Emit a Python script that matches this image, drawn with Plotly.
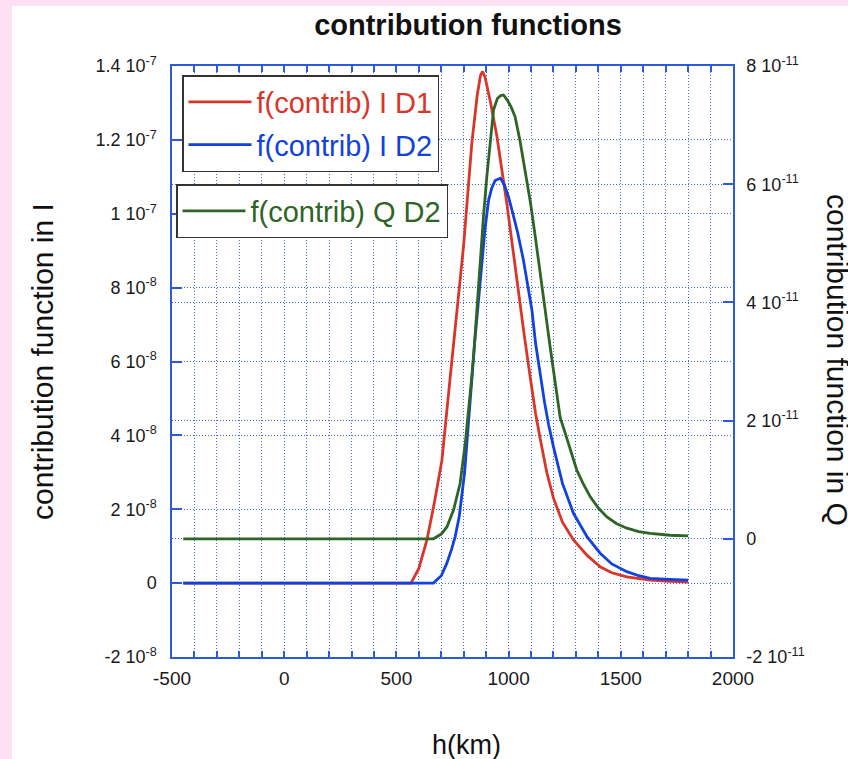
import plotly.graph_objects as go

# ---------------- data ----------------
h_I1 = [-450, 565, 600, 636, 670, 703, 740, 770, 799, 836, 860, 875, 884, 895, 920, 948, 970, 992, 1020, 1044, 1070, 1096,
        1120, 1141, 1170, 1200, 1240, 1289, 1350, 1408, 1460, 1527, 1631, 1720, 1800]
I_D1 = [0, 0, 0.4, 1.17, 2.2, 3.33, 5.59, 7.39, 9.11, 11.9, 13.2, 13.75, 13.85, 13.7, 13.0, 12.09, 11.2, 10.28, 9.0, 7.85, 6.7, 5.59,
        4.6, 3.9, 3.0, 2.3, 1.65, 1.17, 0.75, 0.44, 0.28, 0.17, 0.08, 0.05, 0.03]  # x1e-8

h_I2 = [-450, 665, 700, 725, 745, 762, 780, 792, 804, 814, 825, 836, 850, 862, 881, 895, 911, 925, 940, 963, 980, 1000, 1015,
        1040, 1066, 1085, 1104, 1120, 1141, 1160, 1178, 1200, 1240, 1289, 1350, 1408, 1460, 1527, 1580, 1631, 1720, 1800]
I_D2 = [0, 0, 0.2, 0.54, 0.9, 1.26, 1.8, 2.34, 3.0, 3.78, 4.7, 5.59, 6.6, 7.39, 8.75, 9.6, 10.37, 10.7, 10.9, 10.96, 10.8, 10.45,
        10.1, 9.5, 8.75, 8.1, 7.39, 6.5, 5.59, 4.9, 4.3, 3.69, 2.7, 1.89, 1.25, 0.81, 0.52, 0.31, 0.2, 0.13, 0.1, 0.08]  # x1e-8

h_Q2 = [-450, 665, 700, 725, 755, 784, 807, 822, 836, 848, 858, 873, 888, 903, 918, 933, 950, 965, 977, 995, 1012, 1029, 1050,
        1074, 1097, 1119, 1141, 1163, 1185, 1200, 1215, 1230, 1253, 1275, 1304, 1334, 1364, 1400, 1438, 1480, 1527, 1580, 1631,
        1720, 1800]
Q_D2 = [0, 0, 0.08, 0.2, 0.49, 0.94, 1.62, 2.15, 2.74, 3.3, 3.87, 4.72, 5.45, 6.13, 6.75, 7.26, 7.45, 7.5, 7.51, 7.42, 7.3, 7.14,
        6.75, 6.24, 5.7, 5.11, 4.45, 3.87, 3.25, 2.85, 2.42, 2.05, 1.78, 1.5, 1.16, 0.92, 0.71, 0.52, 0.37, 0.26, 0.18, 0.12, 0.09,
        0.06, 0.05]  # x1e-11

left_tickvals = [-2e-8, 0, 2e-8, 4e-8, 6e-8, 8e-8, 1e-7, 1.2e-7, 1.4e-7]
left_ticktext = ["-2 10<sup>-8</sup>", "0", "2 10<sup>-8</sup>", "4 10<sup>-8</sup>", "6 10<sup>-8</sup>",
                 "8 10<sup>-8</sup>", "1 10<sup>-7</sup>", "1.2 10<sup>-7</sup>", "1.4 10<sup>-7</sup>"]
right_tickvals = [-2e-11, 0, 2e-11, 4e-11, 6e-11, 8e-11]
right_ticktext = ["-2 10<sup>-11</sup>", "0", "2 10<sup>-11</sup>", "4 10<sup>-11</sup>",
                  "6 10<sup>-11</sup>", "8 10<sup>-11</sup>"]
x_tickvals = [-500, 0, 500, 1000, 1500, 2000]
x_ticktext = ["-500", "0", "500", "1000", "1500", "2000"]

# ---------------- style ----------------
W, H = 848, 759
L, R, T, B = 172, 733, 66, 657
FONT = "Liberation Sans, Arial, Helvetica, sans-serif"
RED, BLUE, GREEN = "#d9362a", "#1142dd", "#2e6424"
AX = "#2b5bd8"
GRID = "#3f6be6"
DOT = "1px,2px"

def px_x(p):
    return (p - L) / (R - L)

def px_y(p):
    return (B - p) / (B - T)

fig = go.Figure()
fig.add_trace(go.Scatter(x=h_I1, y=[v * 1e-8 for v in I_D1], mode="lines",
                         line=dict(color=RED, width=2.8),
                         name=f"<span style='color:{RED}'>f(contrib) I D1</span>",
                         legend="legend", legendgroup="a"))
fig.add_trace(go.Scatter(x=h_I2, y=[v * 1e-8 for v in I_D2], mode="lines",
                         line=dict(color=BLUE, width=2.8),
                         name=f"<span style='color:{BLUE}'>f(contrib) I D2</span>",
                         legend="legend", legendgroup="b"))
fig.add_trace(go.Scatter(x=h_Q2, y=[v * 1e-11 for v in Q_D2], mode="lines",
                         line=dict(color=GREEN, width=2.8), yaxis="y2",
                         name=f"<span style='color:{GREEN}'>f(contrib) Q D2</span>",
                         legend="legend2"))

fig.update_layout(
    width=W, height=H,
    margin=dict(l=L, r=W - R, t=T, b=H - B, autoexpand=False),
    paper_bgcolor="#fde0f4",
    plot_bgcolor="white",
    font=dict(family=FONT, color="#1a1a1a", size=18),
    showlegend=True,
    title=dict(text="<b>contribution functions</b>", x=468 / W, xref="container",
               y=1 - 25 / H, yref="container", xanchor="center", yanchor="middle",
               font=dict(size=29, family=FONT, color="#111")),
    xaxis=dict(range=[-500, 2000], tickvals=x_tickvals, ticktext=x_ticktext,
               ticks="inside", ticklen=6,
               tickcolor=AX, tickwidth=1.5, showline=True, linecolor=AX, linewidth=1.5,
               mirror="ticks", zeroline=False, showgrid=True, gridcolor=GRID,
               griddash=DOT, gridwidth=1, tickfont=dict(size=19),
               ticklabelstandoff=3,
               minor=dict(dtick=100, tick0=0, ticks="inside", ticklen=6, tickcolor=AX,
                          tickwidth=1.5, showgrid=True, gridcolor=GRID, griddash=DOT,
                          gridwidth=1)),
    yaxis=dict(range=[-2e-8, 1.4e-7], tickvals=left_tickvals, ticktext=left_ticktext,
               ticks="inside", ticklen=10, tickcolor=AX, tickwidth=1.5,
               showline=True, linecolor=AX, linewidth=1.5, zeroline=False,
               showgrid=True, gridcolor=GRID, griddash=DOT, gridwidth=1,
               tickfont=dict(size=18), ticklabelstandoff=10),
    yaxis2=dict(range=[-2e-11, 8e-11], tickvals=right_tickvals, ticktext=right_ticktext,
                overlaying="y", side="right", anchor="x",
                ticks="inside", ticklen=10, tickcolor=AX, tickwidth=1.5,
                showline=True, linecolor=AX, linewidth=1.5, zeroline=False,
                showgrid=True, gridcolor=GRID, griddash=DOT, gridwidth=1,
                tickfont=dict(size=18), ticklabelstandoff=8),
    legend=dict(x=px_x(182), y=px_y(75), xanchor="left", yanchor="top",
                bgcolor="white", bordercolor="#333", borderwidth=1.5,
                font=dict(size=29, family=FONT), tracegroupgap=2, itemwidth=63),
    legend2=dict(x=px_x(176), y=px_y(184), xanchor="left", yanchor="top",
                 bgcolor="white", bordercolor="#333", borderwidth=1.5,
                 font=dict(size=29, family=FONT), itemwidth=63),
)

# white panel over the pink page background
fig.add_shape(type="rect", xref="paper", yref="paper", layer="below",
              x0=px_x(12), x1=px_x(W + 2), y0=px_y(H + 2), y1=px_y(6),
              fillcolor="white", line=dict(width=0))

# axis titles
fig.add_annotation(text="h(km)", xref="paper", yref="paper", x=px_x(466), y=px_y(745),
                   xanchor="center", yanchor="middle", showarrow=False,
                   font=dict(size=27, family=FONT, color="#111"))
fig.add_annotation(text="contribution function in I", xref="paper", yref="paper",
                   x=px_x(42), y=px_y(362), textangle=-90, xanchor="center",
                   yanchor="middle", showarrow=False,
                   font=dict(size=30, family=FONT, color="#111"))
fig.add_annotation(text="contribution function in Q", xref="paper", yref="paper",
                   x=px_x(838), y=px_y(360), textangle=90, xanchor="center",
                   yanchor="middle", showarrow=False,
                   font=dict(size=30, family=FONT, color="#111"))

fig.write_html("out.html", config={"displayModeBar": False},
               post_script="document.body.style.margin='0';document.body.style.overflow='hidden';")
